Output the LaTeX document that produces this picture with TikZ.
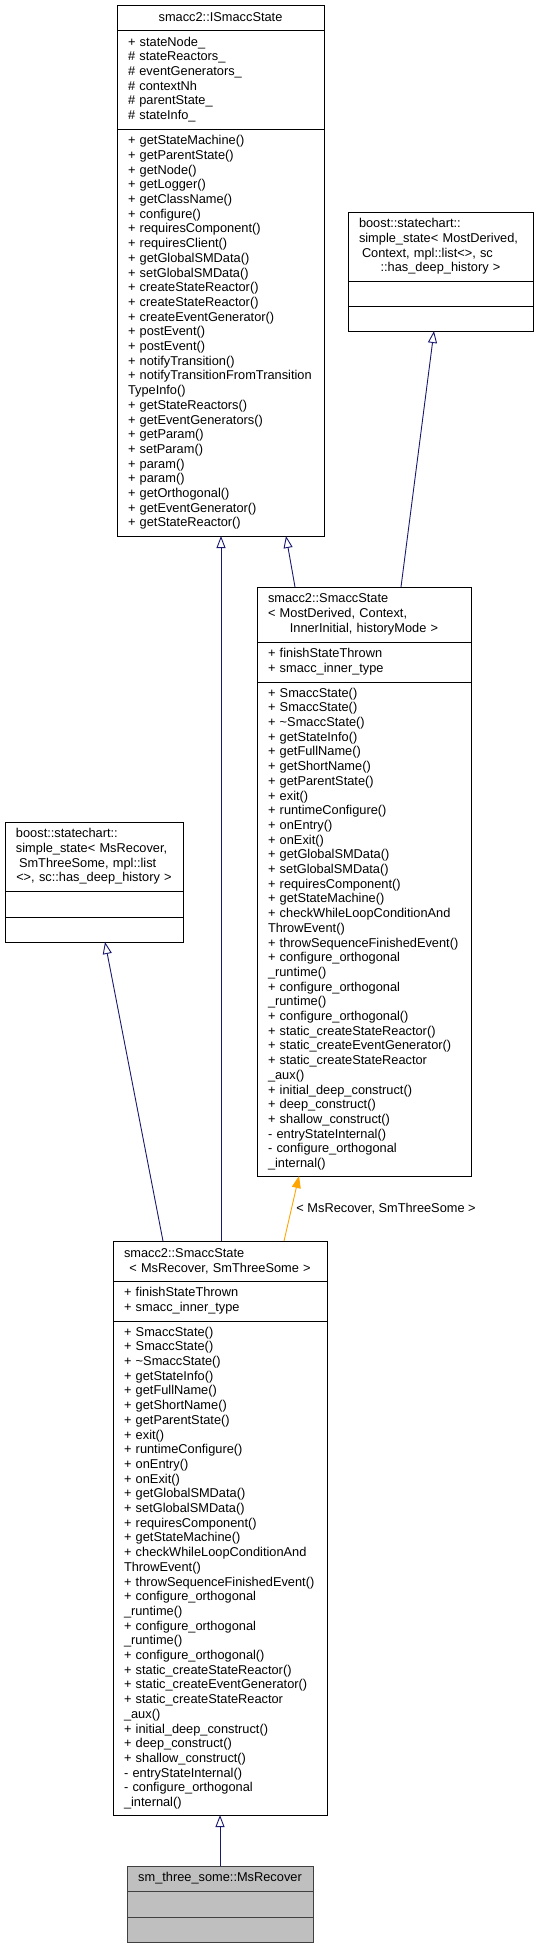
\documentclass[tikz,border=0pt]{standalone}
\usepackage{fontspec}
\setmainfont{Liberation Sans}
\usetikzlibrary{arrows.meta, positioning}
\definecolor{edgeblue}{HTML}{191970}
\definecolor{tmplorange}{HTML}{FFA500}
\definecolor{curgray}{HTML}{BFBFBF}
\definecolor{curborder}{HTML}{404040}
\newcommand{\dxfont}{\fontsize{12.8pt}{14.7pt}\selectfont}
\newcommand{\ctrline}[1]{\makebox[\linewidth]{#1}}
\newcommand{\smaccops}{+ SmaccState()\\+ SmaccState()\\+ \textasciitilde SmaccState()\\
  + getStateInfo()\\+ getFullName()\\+ getShortName()\\+ getParentState()\\+ exit()\\
  + runtimeConfigure()\\+ onEntry()\\+ onExit()\\+ getGlobalSMData()\\+ setGlobalSMData()\\
  + requiresComponent()\\+ getStateMachine()\\+ checkWhileLoopConditionAnd\\ThrowEvent()\\
  + throwSequenceFinishedEvent()\\+ configure\_orthogonal\\\_runtime()\\
  + configure\_orthogonal\\\_runtime()\\+ configure\_orthogonal()\\
  + static\_createStateReactor()\\+ static\_createEventGenerator()\\
  + static\_createStateReactor\\\_aux()\\+ initial\_deep\_construct()\\
  + deep\_construct()\\+ shallow\_construct()\\- entryStateInternal()\\
  - configure\_orthogonal\\\_internal()}

\begin{document}
\begin{tikzpicture}[x=1pt, y=-1pt,
  cls/.style={draw, line width=0.9pt, fill=white, outer sep=0pt, inner xsep=11pt,
              inner ysep=2pt, font=\dxfont, align=left},
  hdr/.style={cls, anchor=north west},
  inh/.style={edgeblue, line width=0.9pt, -{Triangle[open, length=12pt, width=9pt, fill=white]}},
  tmpl/.style={tmplorange, line width=0.9pt, -{Triangle[length=12pt, width=9pt]}}
]
\useasboundingbox (0,0) rectangle (538,1948);

% smacc2::ISmaccState
\node[hdr, text width=185pt, minimum width=207pt, minimum height=25pt, align=center] (iss) at (117,5) {smacc2::ISmaccState};
\node[cls, below=0pt of iss, text width=185pt, minimum width=207pt, minimum height=99pt] (issA)
  {+ stateNode\_\\\# stateReactors\_\\\# eventGenerators\_\\\# contextNh\\\# parentState\_\\\# stateInfo\_};
\node[cls, below=0pt of issA, text width=185pt, minimum width=207pt, minimum height=407pt] (issO)
  {+ getStateMachine()\\+ getParentState()\\+ getNode()\\+ getLogger()\\+ getClassName()\\
   + configure()\\+ requiresComponent()\\+ requiresClient()\\+ getGlobalSMData()\\
   + setGlobalSMData()\\+ createStateReactor()\\+ createStateReactor()\\+ createEventGenerator()\\
   + postEvent()\\+ postEvent()\\+ notifyTransition()\\+ notifyTransitionFromTransition\\TypeInfo()\\
   + getStateReactors()\\+ getEventGenerators()\\+ getParam()\\+ setParam()\\+ param()\\+ param()\\
   + getOrthogonal()\\+ getEventGenerator()\\+ getStateReactor()};

% boost simple_state, generic
\node[hdr, text width=163pt, minimum width=185pt, minimum height=69pt] (bssMD) at (348,212)
  {boost::statechart::\\simple\_state< MostDerived,\\\hspace*{3pt}Context, mpl::list<>, sc\\\ctrline{::has\_deep\_history >}};
\node[cls, below=0pt of bssMD, text width=163pt, minimum width=185pt, minimum height=25pt] (bssMDA) {};
\node[cls, below=0pt of bssMDA, text width=163pt, minimum width=185pt, minimum height=25pt] (bssMDO) {};

% smacc2::SmaccState, generic
\node[hdr, text width=192pt, minimum width=214pt, minimum height=55pt] (smsT) at (257,587)
  {smacc2::SmaccState\\< MostDerived, Context,\\\ctrline{InnerInitial, historyMode >}};
\node[cls, below=0pt of smsT, text width=192pt, minimum width=214pt, minimum height=40pt] (smsTA)
  {+ finishStateThrown\\+ smacc\_inner\_type};
\node[cls, below=0pt of smsTA, text width=192pt, minimum width=214pt, minimum height=494pt] (smsTO) {\smaccops};

% boost simple_state, MsRecover
\node[hdr, text width=156pt, minimum width=178pt, minimum height=69pt] (bssMR) at (5,822)
  {boost::statechart::\\simple\_state< MsRecover,\\\hspace*{3pt}SmThreeSome, mpl::list\\\ctrline{<>, sc::has\_deep\_history >}};
\node[cls, below=0pt of bssMR, text width=156pt, minimum width=178pt, minimum height=26pt] (bssMRA) {};
\node[cls, below=0pt of bssMRA, text width=156pt, minimum width=178pt, minimum height=25pt] (bssMRO) {};

% smacc2::SmaccState, MsRecover
\node[hdr, text width=192pt, minimum width=214pt, minimum height=40pt] (smsMR) at (113,1241)
  {smacc2::SmaccState\\\ctrline{< MsRecover, SmThreeSome >}};
\node[cls, below=0pt of smsMR, text width=192pt, minimum width=214pt, minimum height=40pt] (smsMRA)
  {+ finishStateThrown\\+ smacc\_inner\_type};
\node[cls, below=0pt of smsMRA, text width=192pt, minimum width=214pt, minimum height=494pt] (smsMRO) {\smaccops};

% sm_three_some::MsRecover
\node[hdr, fill=curgray, draw=curborder, text width=164pt, minimum width=186pt, minimum height=25pt, align=center] (msRec) at (127,1866)
  {sm\_three\_some::MsRecover};
\node[cls, fill=curgray, draw=curborder, below=0pt of msRec, text width=164pt, minimum width=186pt, minimum height=26pt] (msRecA) {};
\node[cls, fill=curgray, draw=curborder, below=0pt of msRecA, text width=164pt, minimum width=186pt, minimum height=25pt] (msRecO) {};

\draw[inh] ([xshift=-69pt]smsT.north) -- ([xshift=65.5pt]issO.south);
\draw[inh] ([xshift=37pt]smsT.north) -- ([xshift=-6.5pt]bssMDO.south);
\draw[inh] ([xshift=1pt]smsMR.north) -- ([xshift=0.5pt]issO.south);
\draw[inh] ([xshift=-57pt]smsMR.north) -- ([xshift=11pt]bssMRO.south);
\draw[tmpl] ([xshift=64pt]smsMR.north) -- ([xshift=-65pt]smsTO.south)
  node[midway, anchor=west, xshift=3.5pt, inner sep=1pt, text=black, font=\dxfont] {< MsRecover, SmThreeSome >};
\draw[inh] (msRec.north) -- (smsMRO.south);
\end{tikzpicture}
\end{document}
